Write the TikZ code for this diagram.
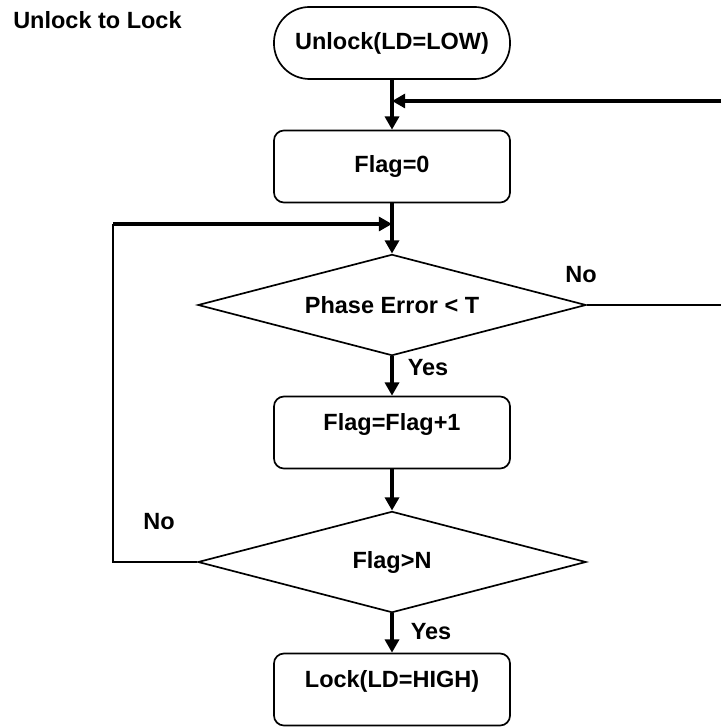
\documentclass[tikz,border=0pt]{standalone}
\usepackage{fontspec}
\setmainfont{Liberation Sans}
\usetikzlibrary{shapes.geometric,arrows.meta}

\def\midx{392}

\begin{document}
\begin{tikzpicture}[x=0.025cm,y=-0.025cm,font=\fontsize{16.7}{20}\selectfont\bfseries]
    \tikzstyle{flow}=[-{Triangle[length=3.3mm,width=3.5mm]},line width=2.3pt]
    \tikzstyle{branch}=[line width=1.3pt]
    \tikzstyle{box}=[draw,line width=1.2pt,rectangle,rounded corners=0.25cm,minimum width=5.9cm,minimum height=1.8cm]
    \tikzstyle{terminal}=[box,rounded corners=0.89cm]
    \tikzstyle{lowbox}=[box,text height=12pt,text depth=15.5pt]
    \tikzstyle{decision}=[draw,line width=1.2pt,diamond,aspect=3.84,minimum width=9.7cm,minimum height=2.53cm,inner sep=0pt]
    \tikzstyle{annot}=[inner sep=0pt]

    \useasboundingbox (0,0) rectangle (721,727);

    % Title
    \node[annot,anchor=base west] (title) at (13,29) {Unlock to Lock};

    % Draw the steps of the flow
    \node[terminal] (start) at (\midx,43) {Unlock(LD=LOW)};
    \node[box] (reset) at (\midx,166.5) {Flag=0};
    \node[decision] (phase) at (\midx,305) {Phase Error < T};
    \node[lowbox] (incr) at (\midx,432.5) {Flag=Flag+1};
    \node[decision] (check) at (\midx,562) {Flag>N};
    \node[lowbox] (lock) at (\midx,689.5) {Lock(LD=HIGH)};

    % Loose ends of the loops
    \coordinate (rtop) at (721,101);
    \coordinate (rmid) at (721,305);
    \coordinate (ltop) at (113,224);

    % Connect the steps top to bottom
    \draw[flow] (start) -- (reset);
    \draw[flow] (reset) -- (phase);
    \draw[flow] (phase) -- (incr);
    \draw[flow] (incr) -- (check);
    \draw[flow] (check) -- (lock);

    % Loops back
    \draw[flow] (rtop) -- (rtop -| start);
    \draw[branch] (phase.east) -- (rmid);
    \draw[branch] (check.west) -| (ltop);
    \draw[flow] (ltop) -- (ltop -| phase);

    % Annotate the branches
    \node[annot] (no1) at (581,275) {No};
    \node[annot] (yes1) at (428,368) {Yes};
    \node[annot] (no2) at (159,522) {No};
    \node[annot] (yes2) at (431,632) {Yes};
\end{tikzpicture}
\end{document}
